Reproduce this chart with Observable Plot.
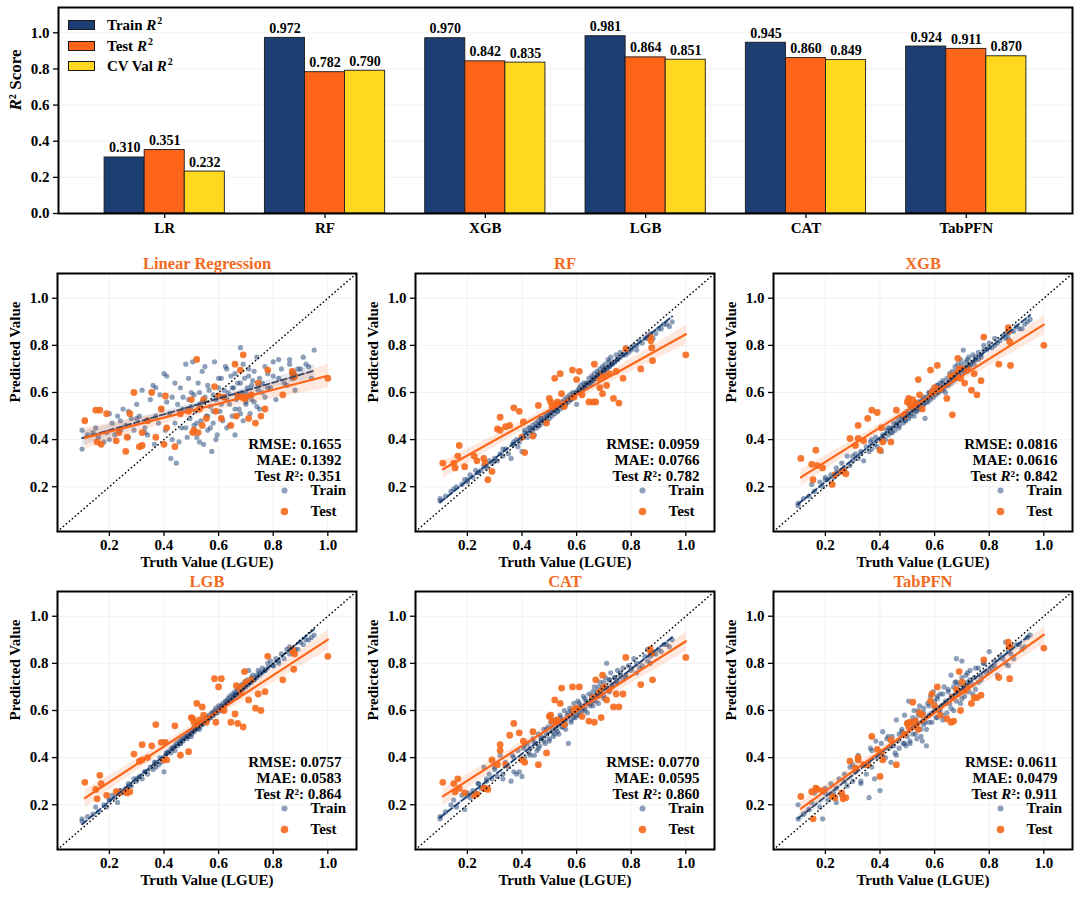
<!DOCTYPE html>
<html><head><meta charset="utf-8">
<script src="https://cdn.jsdelivr.net/npm/d3@7"></script>
<script src="https://cdn.jsdelivr.net/npm/@observablehq/plot@0.6"></script>
<style>
body{margin:0;background:#fff;}
#root{position:relative;width:1080px;height:899px;overflow:hidden;background:#fff;font-family:'Liberation Serif','Times New Roman',serif;font-weight:bold;color:#000;}
.leg{position:absolute;left:68px;height:18px;font-size:15px;line-height:18px;display:flex;align-items:center;white-space:nowrap;}
.sw{width:27px;height:10px;border:1px solid #1a1a1a;margin-right:12px;box-sizing:border-box;}
.leg sup{font-size:10px;vertical-align:6px;line-height:0;margin-left:1px;}
</style></head><body><div id="root"></div>
<script>
// ---------- Top bar chart data ----------
const models = ["LR", "RF", "XGB", "LGB", "CAT", "TabPFN"];
const seriesNames = ["Train", "Test", "CV Val"];
const trainR2 = [0.310, 0.972, 0.970, 0.981, 0.945, 0.924];
const testR2  = [0.351, 0.782, 0.842, 0.864, 0.860, 0.911];
const cvR2    = [0.232, 0.790, 0.835, 0.851, 0.849, 0.870];
const barTicks = [0, 0.2, 0.4, 0.6, 0.8, 1.0];

// ---------- Scatter panel data ----------
const panelTitles = ["Linear Regression", "RF", "XGB", "LGB", "CAT", "TabPFN"];
const rmse = ["0.1655", "0.0959", "0.0816", "0.0757", "0.0770", "0.0611"];
const mae  = ["0.1392", "0.0766", "0.0616", "0.0583", "0.0595", "0.0479"];
const axisTicks = [0.2, 0.4, 0.6, 0.8, 1.0];
const lims = [0.01, 1.105];

const trainTruth = [
  0.10,0.10,0.12,0.15,0.16,0.18,0.19,0.20,
  0.21,0.22,0.23,0.24,0.25,0.26,0.27,0.28,0.29,0.30,
  0.31,0.32,0.33,0.34,0.35,0.36,0.365,0.37,0.38,0.385,0.39,0.40,
  0.405,0.41,0.42,0.425,0.43,0.44,0.445,0.45,0.455,0.46,0.465,0.47,0.48,0.485,0.49,0.495,0.50,
  0.505,0.51,0.515,0.52,0.525,0.53,0.535,0.54,0.545,0.55,0.555,0.56,0.565,0.57,0.575,0.58,0.585,0.59,0.595,0.60,
  0.605,0.61,0.615,0.62,0.625,0.63,0.635,0.64,0.645,0.65,0.655,0.66,0.665,0.67,0.675,0.68,0.685,0.69,0.695,0.70,
  0.705,0.71,0.715,0.72,0.725,0.73,0.74,0.745,0.75,0.76,0.77,0.78,0.79,0.80,
  0.81,0.82,0.83,0.85,0.86,0.87,0.88,0.90,0.92,0.94,0.95,
  0.30,0.33,0.37,0.41,0.43,0.44,0.46,0.47,0.48,0.49,
  0.50,0.51,0.52,0.53,0.53,0.54,0.55,0.56,0.56,0.57,
  0.58,0.58,0.59,0.60,0.61,0.61,0.62,0.63,0.63,0.64,
  0.65,0.66,0.66,0.67,0.68,0.68,0.69,0.70,0.70,0.71,
  0.72,0.72,0.73,0.74,0.75,0.76,0.77,0.78,0.80,0.82,
  0.84,0.86,0.87,0.89,0.91,0.93,0.24,0.20,0.14,0.27
];
const trainPredLR = [
  0.36,0.44,0.42,0.45,0.41,0.39,0.43,0.51,
  0.47,0.42,0.50,0.44,0.53,0.46,0.41,0.49,0.44,0.55,
  0.50,0.61,0.45,0.42,0.57,0.63,0.38,0.50,0.47,0.59,0.53,0.68,
  0.44,0.67,0.51,0.32,0.58,0.47,0.30,0.55,0.39,0.62,0.45,0.53,0.72,0.41,0.57,0.49,0.60,
  0.73,0.46,0.52,0.41,0.64,0.55,0.48,0.69,0.38,0.58,0.50,0.44,0.61,0.54,0.35,0.47,0.73,0.57,0.42,0.62,
  0.52,0.66,0.48,0.58,0.71,0.45,0.60,0.55,0.67,0.50,0.62,0.42,0.57,0.64,0.53,0.79,0.60,0.48,0.66,0.56,
  0.62,0.70,0.51,0.59,0.65,0.56,0.75,0.61,0.53,0.64,0.58,0.68,0.62,0.73,
  0.57,0.66,0.70,0.63,0.74,0.69,0.61,0.70,0.72,0.66,0.78,
  0.49,0.43,0.62,0.56,0.40,0.64,0.51,0.58,0.45,0.66,
  0.54,0.59,0.47,0.60,0.39,0.56,0.71,0.50,0.63,0.45,
  0.59,0.52,0.40,0.66,0.55,0.49,0.61,0.57,0.70,0.46,
  0.62,0.53,0.68,0.58,0.64,0.51,0.72,0.60,0.55,0.67,
  0.57,0.63,0.69,0.54,0.66,0.60,0.71,0.62,0.67,0.74,
  0.64,0.72,0.66,0.70,0.75,0.71,0.48,0.40,0.43,0.52
];
const trainPredRF = [
  0.14,0.15,0.16,0.19,0.20,0.21,0.23,0.22,
  0.25,0.24,0.27,0.26,0.27,0.29,0.28,0.31,0.30,0.32,
  0.31,0.34,0.33,0.36,0.34,0.32,0.38,0.39,0.40,0.37,0.39,0.35,
  0.41,0.44,0.41,0.45,0.43,0.46,0.42,0.47,0.45,0.48,0.46,0.49,0.47,0.50,0.48,0.51,0.49,
  0.52,0.50,0.53,0.51,0.54,0.52,0.55,0.53,0.56,0.54,0.57,0.55,0.58,0.56,0.59,0.57,0.60,0.58,0.60,0.55,
  0.61,0.60,0.63,0.61,0.64,0.62,0.64,0.63,0.66,0.64,0.67,0.65,0.68,0.66,0.69,0.67,0.70,0.68,0.71,0.69,
  0.72,0.70,0.74,0.71,0.75,0.72,0.73,0.76,0.74,0.77,0.76,0.79,0.77,0.79,
  0.80,0.78,0.82,0.83,0.84,0.85,0.83,0.87,0.89,0.88,0.90,
  0.31,0.36,0.38,0.43,0.45,0.44,0.46,0.49,0.48,0.50,
  0.51,0.52,0.53,0.52,0.54,0.55,0.54,0.56,0.55,0.57,
  0.58,0.57,0.59,0.60,0.60,0.62,0.61,0.63,0.62,0.64,
  0.64,0.66,0.65,0.66,0.68,0.67,0.68,0.70,0.69,0.70,
  0.71,0.73,0.72,0.73,0.74,0.75,0.76,0.76,0.78,0.80,
  0.81,0.83,0.84,0.85,0.87,0.89,0.26,0.23,0.18,0.29
];
const trainPredXGB = [
  0.12,0.13,0.15,0.21,0.18,0.22,0.20,0.24,
  0.23,0.25,0.24,0.28,0.26,0.30,0.27,0.33,0.29,0.31,
  0.34,0.32,0.35,0.31,0.37,0.35,0.39,0.36,0.38,0.41,0.37,0.40,
  0.35,0.42,0.40,0.44,0.42,0.45,0.43,0.47,0.44,0.46,0.49,0.45,0.50,0.47,0.51,0.48,0.52,
  0.49,0.54,0.51,0.53,0.50,0.55,0.52,0.56,0.54,0.53,0.57,0.55,0.49,0.58,0.56,0.60,0.57,0.61,0.58,0.62,
  0.59,0.63,0.60,0.64,0.61,0.65,0.62,0.60,0.66,0.63,0.68,0.64,0.69,0.65,0.71,0.66,0.72,0.67,0.74,0.68,
  0.78,0.70,0.73,0.69,0.75,0.71,0.76,0.72,0.74,0.77,0.75,0.80,0.78,0.81,
  0.79,0.83,0.81,0.84,0.85,0.83,0.86,0.88,0.87,0.90,0.91,
  0.33,0.34,0.40,0.41,0.45,0.43,0.47,0.46,0.49,0.48,
  0.51,0.50,0.53,0.52,0.55,0.53,0.56,0.55,0.58,0.56,
  0.58,0.60,0.59,0.61,0.60,0.63,0.62,0.61,0.64,0.63,
  0.64,0.66,0.65,0.67,0.66,0.69,0.67,0.70,0.72,0.69,
  0.71,0.74,0.72,0.73,0.75,0.74,0.76,0.78,0.79,0.80,
  0.82,0.83,0.85,0.86,0.87,0.89,0.26,0.23,0.16,0.28
];
const trainPredLGB = [
  0.14,0.13,0.15,0.19,0.17,0.20,0.19,0.22,
  0.24,0.23,0.21,0.26,0.25,0.27,0.29,0.28,0.31,0.30,
  0.32,0.31,0.34,0.33,0.36,0.35,0.38,0.36,0.37,0.40,0.38,0.34,
  0.41,0.42,0.43,0.42,0.44,0.43,0.46,0.45,0.47,0.46,0.48,0.47,0.49,0.48,0.50,0.51,0.49,
  0.51,0.53,0.52,0.54,0.53,0.52,0.55,0.54,0.56,0.55,0.57,0.56,0.58,0.57,0.59,0.58,0.60,0.61,0.59,0.62,
  0.61,0.60,0.63,0.62,0.64,0.63,0.65,0.66,0.64,0.67,0.66,0.68,0.67,0.69,0.70,0.68,0.71,0.70,0.72,0.71,
  0.73,0.77,0.72,0.74,0.75,0.73,0.75,0.77,0.76,0.78,0.77,0.80,0.81,0.79,
  0.82,0.80,0.84,0.86,0.87,0.85,0.86,0.89,0.90,0.91,0.92,
  0.31,0.34,0.38,0.42,0.44,0.45,0.46,0.48,0.49,0.49,
  0.50,0.51,0.52,0.53,0.54,0.54,0.55,0.56,0.57,0.57,
  0.58,0.59,0.59,0.60,0.61,0.62,0.62,0.63,0.64,0.64,
  0.65,0.66,0.67,0.67,0.68,0.69,0.69,0.70,0.71,0.71,
  0.72,0.73,0.73,0.74,0.75,0.76,0.77,0.78,0.79,0.81,
  0.82,0.84,0.85,0.86,0.88,0.90,0.26,0.22,0.16,0.28
];
const trainPredCAT = [
  0.15,0.14,0.17,0.22,0.19,0.24,0.18,0.25,
  0.23,0.26,0.25,0.29,0.27,0.36,0.30,0.33,0.31,0.35,
  0.32,0.41,0.31,0.38,0.36,0.30,0.41,0.34,0.33,0.43,0.34,0.32,
  0.44,0.40,0.46,0.42,0.44,0.48,0.41,0.46,0.43,0.50,0.45,0.48,0.52,0.46,0.50,0.53,0.47,
  0.55,0.51,0.49,0.56,0.52,0.54,0.50,0.58,0.53,0.56,0.60,0.54,0.58,0.46,0.61,0.56,0.59,0.63,0.57,0.61,
  0.64,0.58,0.62,0.60,0.66,0.61,0.64,0.59,0.67,0.63,0.66,0.62,0.70,0.64,0.68,0.66,0.72,0.67,0.70,0.65,
  0.74,0.80,0.69,0.73,0.76,0.70,0.74,0.72,0.77,0.75,0.78,0.74,0.79,0.77,
  0.82,0.80,0.78,0.83,0.86,0.80,0.84,0.86,0.88,0.87,0.90,
  0.36,0.33,0.40,0.45,0.41,0.47,0.44,0.49,0.47,0.52,
  0.48,0.53,0.50,0.55,0.51,0.57,0.53,0.56,0.52,0.59,
  0.55,0.60,0.57,0.58,0.63,0.59,0.61,0.65,0.60,0.63,
  0.62,0.68,0.64,0.66,0.70,0.63,0.68,0.72,0.66,0.70,
  0.68,0.73,0.71,0.74,0.72,0.76,0.73,0.75,0.78,0.76,
  0.79,0.81,0.83,0.84,0.85,0.88,0.29,0.24,0.20,0.31
];
const trainPredTab = [
  0.20,0.14,0.16,0.21,0.25,0.19,0.14,0.27,
  0.22,0.29,0.25,0.21,0.31,0.24,0.33,0.28,0.36,0.30,
  0.34,0.41,0.29,0.37,0.33,0.23,0.44,0.36,0.31,0.47,0.40,0.26,
  0.46,0.51,0.40,0.48,0.44,0.38,0.49,0.45,0.42,0.56,0.47,0.44,0.51,0.46,0.58,0.45,0.49,
  0.64,0.46,0.55,0.50,0.60,0.53,0.48,0.58,0.62,0.52,0.47,0.59,0.55,0.45,0.63,0.58,0.66,0.55,0.68,0.61,
  0.57,0.65,0.60,0.67,0.62,0.56,0.70,0.64,0.59,0.68,0.63,0.75,0.66,0.60,0.72,0.82,0.67,0.71,0.63,0.81,
  0.70,0.66,0.75,0.72,0.68,0.77,0.71,0.74,0.69,0.78,0.73,0.80,0.76,0.85,
  0.78,0.81,0.75,0.82,0.89,0.79,0.84,0.88,0.86,0.91,0.92,
  0.37,0.30,0.43,0.40,0.49,0.45,0.41,0.50,0.52,0.46,
  0.55,0.47,0.57,0.50,0.56,0.60,0.49,0.54,0.61,0.52,
  0.62,0.55,0.59,0.64,0.57,0.66,0.60,0.67,0.58,0.63,
  0.69,0.61,0.66,0.70,0.64,0.72,0.67,0.74,0.65,0.69,
  0.76,0.70,0.73,0.67,0.78,0.72,0.75,0.80,0.77,0.79,
  0.83,0.80,0.85,0.82,0.88,0.87,0.27,0.25,0.18,0.30
];

const testTruth = [
  0.11,0.15,0.155,0.165,0.17,0.19,0.225,0.235,0.26,0.265,
  0.275,0.29,0.31,0.32,0.32,0.34,0.355,0.37,0.39,0.40,
  0.405,0.41,0.44,0.46,0.49,0.50,0.505,0.51,0.52,0.525,
  0.53,0.54,0.545,0.555,0.585,0.59,0.60,0.61,0.62,0.645,
  0.66,0.665,0.67,0.68,0.685,0.69,0.695,0.70,0.71,0.72,
  0.735,0.745,0.755,0.77,0.78,0.835,0.87,0.872,0.875,0.878,
  1.0
];
const testPredLR = [
  0.48,0.525,0.39,0.525,0.38,0.51,0.395,0.43,0.35,0.41,
  0.51,0.60,0.37,0.375,0.43,0.48,0.60,0.41,0.53,0.38,
  0.585,0.45,0.37,0.51,0.52,0.57,0.43,0.44,0.74,0.43,
  0.53,0.46,0.57,0.49,0.625,0.52,0.585,0.49,0.58,0.46,
  0.72,0.50,0.59,0.695,0.58,0.76,0.575,0.58,0.49,0.59,
  0.47,0.64,0.50,0.53,0.695,0.59,0.69,0.68,0.665,0.67,
  0.66
];
const testPredRF = [
  0.30,0.30,0.28,0.33,0.375,0.285,0.33,0.31,0.32,0.30,
  0.23,0.265,0.445,0.44,0.495,0.455,0.46,0.535,0.52,0.41,
  0.475,0.345,0.415,0.545,0.47,0.575,0.56,0.54,0.66,0.55,
  0.56,0.68,0.595,0.54,0.695,0.58,0.655,0.69,0.59,0.56,
  0.56,0.72,0.56,0.66,0.62,0.675,0.595,0.67,0.63,0.68,
  0.575,0.69,0.555,0.66,0.785,0.70,0.835,0.82,0.79,0.735,
  0.76
];
const testPredXGB = [
  0.32,0.295,0.23,0.355,0.29,0.28,0.21,0.25,0.265,0.27,
  0.255,0.405,0.375,0.46,0.405,0.395,0.49,0.525,0.515,0.355,
  0.45,0.39,0.39,0.525,0.50,0.56,0.575,0.55,0.57,0.54,
  0.555,0.655,0.59,0.53,0.695,0.60,0.62,0.715,0.615,0.575,
  0.67,0.505,0.665,0.68,0.745,0.70,0.66,0.70,0.64,0.70,
  0.61,0.68,0.59,0.65,0.835,0.72,0.875,0.86,0.815,0.715,
  0.80
];
const testPredLGB = [
  0.295,0.265,0.225,0.325,0.29,0.24,0.255,0.25,0.26,0.25,
  0.255,0.415,0.385,0.455,0.39,0.40,0.45,0.54,0.465,0.39,
  0.465,0.39,0.535,0.41,0.425,0.57,0.565,0.55,0.63,0.54,
  0.56,0.615,0.58,0.55,0.735,0.55,0.70,0.735,0.60,0.55,
  0.585,0.705,0.545,0.68,0.70,0.53,0.765,0.72,0.645,0.73,
  0.61,0.67,0.60,0.68,0.83,0.73,0.86,0.85,0.775,0.84,
  0.83
];
const testPredCAT = [
  0.295,0.29,0.255,0.31,0.27,0.25,0.24,0.245,0.27,0.27,
  0.265,0.39,0.37,0.455,0.43,0.37,0.495,0.545,0.505,0.39,
  0.47,0.38,0.51,0.37,0.42,0.575,0.58,0.555,0.645,0.55,
  0.56,0.63,0.695,0.54,0.70,0.605,0.61,0.70,0.575,0.555,
  0.655,0.55,0.73,0.665,0.68,0.57,0.75,0.70,0.645,0.69,
  0.615,0.67,0.615,0.67,0.825,0.71,0.86,0.845,0.845,0.73,
  0.825
];
const testPredTab = [
  0.235,0.255,0.14,0.27,0.265,0.26,0.235,0.23,0.25,0.225,
  0.23,0.385,0.355,0.39,0.40,0.37,0.37,0.49,0.435,0.32,
  0.42,0.39,0.475,0.37,0.50,0.545,0.53,0.55,0.635,0.545,
  0.555,0.52,0.59,0.58,0.64,0.67,0.62,0.70,0.58,0.565,
  0.55,0.655,0.555,0.69,0.68,0.765,0.60,0.72,0.685,0.70,
  0.63,0.655,0.655,0.665,0.815,0.74,0.89,0.87,0.735,0.87,
  0.865
];

const trainPreds = [trainPredLR, trainPredRF, trainPredXGB, trainPredLGB, trainPredCAT, trainPredTab];
const testPreds  = [testPredLR, testPredRF, testPredXGB, testPredLGB, testPredCAT, testPredTab];

// ---------- styling ----------
const NAVY = "#1B3F73", ORANGE = "#FF6519", YELLOW = "#FFD81F";
const PT_ORANGE = "#F5691C", TITLE_ORANGE = "#F26A21";
const FONT = "'Liberation Serif','Times New Roman',serif";
const root = document.getElementById("root");

function italicR(svg) {
  d3.select(svg).selectAll("text").each(function () {
    const t = this.textContent;
    const k = t.indexOf("R²");
    if (k < 0 || this.querySelector("tspan")) return;
    const sel = d3.select(this);
    sel.text(null);
    if (k > 0) sel.append("tspan").text(t.slice(0, k));
    sel.append("tspan").attr("font-style", "italic").text("R");
    sel.append("tspan").text(t.slice(k + 1));
  });
}

// ---------- bar chart ----------
const seriesArrays = [trainR2, testR2, cvR2];
const barData = models.flatMap((m, i) => seriesArrays.map((arr, j) => ({i, j, model: m, series: seriesNames[j], value: arr[i]})));
const BW = 0.25;
const barSvg = Plot.plot({
  width: 1080, height: 245,
  marginLeft: 58, marginRight: 8, marginTop: 7, marginBottom: 32,
  x: {domain: [-0.6625, 5.6625]},
  y: {domain: [0, 1.14]},
  color: {domain: seriesNames, range: [NAVY, ORANGE, YELLOW]},
  style: {fontFamily: FONT, fontWeight: "bold", fontSize: "15px", color: "#000", background: "transparent", position: "absolute", left: "0px", top: "0px", overflow: "visible"},
  marks: [
    Plot.gridY({ticks: barTicks.slice(1), stroke: "#000", strokeOpacity: 0.08, strokeWidth: 0.8}),
    Plot.rectY(barData, {x1: d => d.i + (d.j - 1) * BW - BW / 2, x2: d => d.i + (d.j - 1) * BW + BW / 2, y: "value", fill: "series", stroke: "#1a1a1a", strokeWidth: 0.9}),
    Plot.text(barData, {x: d => d.i + (d.j - 1) * BW, y: "value", text: d => d.value.toFixed(3), dy: -5, lineAnchor: "bottom", fontSize: 14, fontWeight: "bold", fill: "#000"}),
    Plot.axisX({ticks: models.map((m, i) => i), tickFormat: i => models[i], tickSize: 5, tickPadding: 4, fontSize: 15, fontWeight: "bold", label: null, strokeWidth: 1.3}),
    Plot.axisY({ticks: barTicks, tickFormat: d => d.toFixed(1), tickSize: 5, tickPadding: 4, fontSize: 15, fontWeight: "bold", label: null, strokeWidth: 1.3}),
    Plot.frame({stroke: "#000", strokeWidth: 2}),
    Plot.text(["R² Score"], {frameAnchor: "left", rotate: -90, dx: -43, fontSize: 17, fontWeight: "bold", fill: "#000"})
  ]
});
italicR(barSvg);
root.appendChild(barSvg);

// bar legend (HTML)
const legTops = [16, 37, 57];
const legColors = [NAVY, ORANGE, YELLOW];
const legLabels = ["Train", "Test", "CV Val"];
legLabels.forEach((lab, j) => {
  const div = document.createElement("div");
  div.className = "leg";
  div.style.top = legTops[j] + "px";
  div.innerHTML = `<span class="sw" style="background:${legColors[j]}"></span><span>${lab} <i>R</i><sup>2</sup></span>`;
  root.appendChild(div);
});

// ---------- scatter panels ----------
const frameLefts = [57, 415, 773];
const frameTops = [273, 591];
const FW = 299, FH = 258, ML = 57, MR = 10, MT = 27, MB = 46;

panelTitles.forEach((title, k) => {
  const col = k % 3, row = Math.floor(k / 3);
  const train = trainTruth.map((t, i) => ({t, p: trainPreds[k][i]}));
  const test = testTruth.map((t, i) => ({t, p: testPreds[k][i]}));
  const txt = {fontSize: 15, fontWeight: "bold", fill: "#000"};
  const svg = Plot.plot({
    width: ML + FW + MR, height: MT + FH + MB,
    marginLeft: ML, marginRight: MR, marginTop: MT, marginBottom: MB,
    x: {domain: lims},
    y: {domain: lims},
    style: {fontFamily: FONT, fontWeight: "bold", fontSize: "15px", color: "#000", background: "transparent", position: "absolute",
            left: (frameLefts[col] - ML) + "px", top: (frameTops[row] - MT) + "px", overflow: "visible"},
    marks: [
      Plot.gridX({ticks: axisTicks, stroke: "#000", strokeOpacity: 0.07, strokeWidth: 0.8}),
      Plot.gridY({ticks: axisTicks, stroke: "#000", strokeOpacity: 0.07, strokeWidth: 0.8}),
      Plot.dot(train, {x: "t", y: "p", r: 2.6, fill: NAVY, fillOpacity: 0.5, stroke: null}),
      Plot.dot(test, {x: "t", y: "p", r: 3.4, fill: PT_ORANGE, fillOpacity: 0.9, stroke: null}),
      Plot.linearRegressionY(train, {x: "t", y: "p", stroke: NAVY, strokeWidth: 1.8, strokeDasharray: "6,3", fill: NAVY, fillOpacity: 0.12}),
      Plot.linearRegressionY(test, {x: "t", y: "p", stroke: ORANGE, strokeWidth: 2.2, fill: ORANGE, fillOpacity: 0.15}),
      Plot.line(lims, {x: d => d, y: d => d, stroke: "#000", strokeWidth: 1.5, strokeLinecap: "round", strokeDasharray: "0.3,3.6"}),
      Plot.axisX({ticks: axisTicks, tickFormat: d => d.toFixed(1), tickSize: 5, tickPadding: 3, fontSize: 15, fontWeight: "bold", label: null, strokeWidth: 1.3}),
      Plot.axisY({ticks: axisTicks, tickFormat: d => d.toFixed(1), tickSize: 5, tickPadding: 4, fontSize: 15, fontWeight: "bold", label: null, strokeWidth: 1.3}),
      Plot.frame({stroke: "#000", strokeWidth: 2}),
      Plot.text([title], {frameAnchor: "top", dy: -10, lineAnchor: "middle", fontSize: 16.5, fontWeight: "bold", fill: TITLE_ORANGE}),
      Plot.text(["Predicted Value"], {frameAnchor: "left", rotate: -90, dx: -42, ...txt}),
      Plot.text(["Truth Value (LGUE)"], {frameAnchor: "bottom", dy: 31, lineAnchor: "middle", ...txt}),
      Plot.text([`RMSE: ${rmse[k]}`], {frameAnchor: "bottom-right", dx: -15, dy: -87, textAnchor: "end", lineAnchor: "middle", ...txt}),
      Plot.text([`MAE: ${mae[k]}`], {frameAnchor: "bottom-right", dx: -15, dy: -71, textAnchor: "end", lineAnchor: "middle", ...txt}),
      Plot.text([`Test R²: ${testR2[k].toFixed(3)}`], {frameAnchor: "bottom-right", dx: -15, dy: -55, textAnchor: "end", lineAnchor: "middle", ...txt}),
      Plot.dot([0], {frameAnchor: "bottom-right", dx: -72, dy: -41, r: 3, fill: NAVY, fillOpacity: 0.5}),
      Plot.dot([0], {frameAnchor: "bottom-right", dx: -72, dy: -20, r: 3.8, fill: PT_ORANGE, fillOpacity: 0.9}),
      Plot.text(["Train"], {frameAnchor: "bottom-right", dx: -46, dy: -41, textAnchor: "start", lineAnchor: "middle", ...txt}),
      Plot.text(["Test"], {frameAnchor: "bottom-right", dx: -46, dy: -20, textAnchor: "start", lineAnchor: "middle", ...txt})
    ]
  });
  italicR(svg);
  root.appendChild(svg);
});
</script></body></html>
